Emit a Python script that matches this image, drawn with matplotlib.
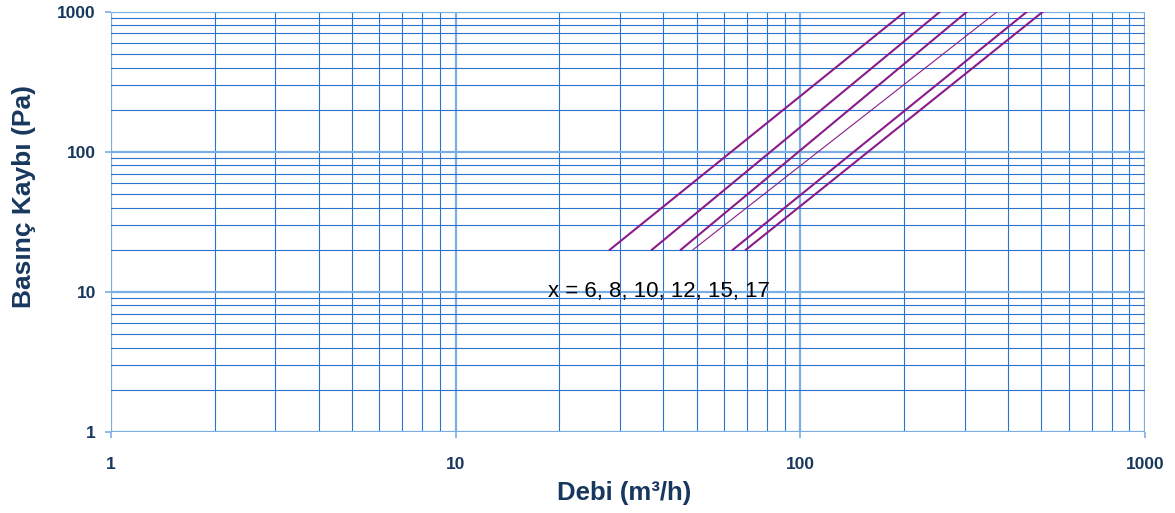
import matplotlib.pyplot as plt
from matplotlib.ticker import LogLocator, FixedFormatter, FixedLocator, NullFormatter

# flow (m3/h) at the start (20 Pa) and end (1000 Pa) of each curve, x = 6, 8, 10, 12, 15, 17
dp_range = [20, 1000]
q_start = [28.0, 37.1, 45.0, 48.8, 63.7, 69.5]
q_end = [201, 254, 304, 372, 454, 505]
widths = [1.5, 1.5, 1.5, 0.8, 1.5, 1.5]

decades = [1, 10, 100, 1000]
decade_labels = ["1", "10", "100", "1000"]

navy = "#17375E"
purple = "#8B1A8B"

fig = plt.figure(figsize=(11.75, 5.13), dpi=100)
ax = fig.add_axes([0.0945, 0.158, 0.88, 0.819])
ax.set_xscale("log")
ax.set_yscale("log")
ax.set_xlim(1, 1000)
ax.set_ylim(1, 1000)

ax.xaxis.set_major_locator(FixedLocator(decades))
ax.yaxis.set_major_locator(FixedLocator(decades))
ax.xaxis.set_major_formatter(FixedFormatter(decade_labels))
ax.yaxis.set_major_formatter(FixedFormatter(decade_labels))
ax.xaxis.set_minor_locator(LogLocator(base=10, subs=range(2, 10)))
ax.yaxis.set_minor_locator(LogLocator(base=10, subs=range(2, 10)))
ax.xaxis.set_minor_formatter(NullFormatter())
ax.yaxis.set_minor_formatter(NullFormatter())

ax.grid(which="major", color="#7AAFE3", linewidth=1.6)
ax.grid(which="minor", color="#2A73CF", linewidth=0.8)
ax.set_axisbelow(True)
for s in ax.spines.values():
    s.set_visible(False)

ax.tick_params(which="major", length=4, color="#7AAFE3", width=1.2)
ax.tick_params(axis="x", which="major", pad=14)
ax.tick_params(axis="y", which="major", pad=7)
ax.tick_params(which="minor", length=0)
for lab in ax.get_xticklabels() + ax.get_yticklabels():
    lab.set_fontfamily("Liberation Sans")
    lab.set_fontweight("bold")
    lab.set_fontsize(12.5)
    lab.set_color(navy)

for i in range(len(q_start)):
    ax.plot([q_start[i], q_end[i]], dp_range, color=purple, linewidth=widths[i])

ax.text(39, 10, "x = 6, 8, 10, 12, 15, 17", ha="center", va="center",
        fontsize=16, family="Liberation Sans", color="black")

ax.set_xlabel("Debi (m³/h)", fontsize=18.5, fontweight="bold", color=navy,
              family="Liberation Sans")
ax.set_ylabel("Basınç Kaybı (Pa)", fontsize=19, fontweight="bold", color=navy,
              family="Liberation Sans")
ax.xaxis.set_label_coords(0.496, -0.117)
ax.yaxis.set_label_coords(-0.0725, 0.56)

fig.savefig("out.png", dpi=100)
